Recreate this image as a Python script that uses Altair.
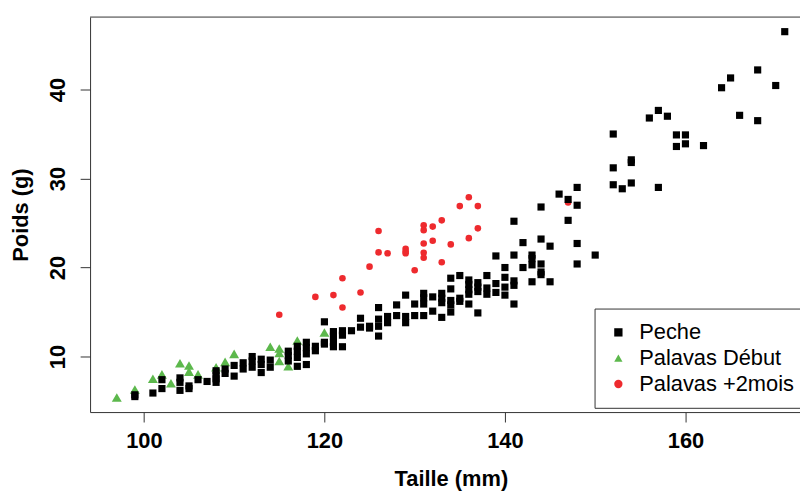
import altair as alt
import pandas as pd

# Peche (black squares)
peche_taille = [99, 99, 101, 102, 102, 104, 104, 104, 105, 105, 106, 107,
                108, 108, 108, 108, 109, 109, 110, 110, 111, 111, 112, 112, 112,
                113, 113, 113, 114, 114, 116, 116, 116, 117, 117, 117, 117,
                118, 118, 118, 118, 119, 119, 120, 120, 120, 121, 121, 121, 121,
                122, 122, 122, 123, 124, 124, 125, 125, 126, 126, 126, 126,
                127, 127, 128, 128, 129, 129, 129, 130, 130, 131, 131, 131, 131,
                132, 132, 133, 133, 133, 133, 134, 134, 134, 134, 134,
                135, 135, 135, 136, 136, 136, 136, 136, 137, 137, 137, 137,
                138, 138, 138, 139, 139, 139, 140, 140, 140, 140,
                141, 141, 141, 141, 141, 142, 142, 143, 143, 143, 143,
                144, 144, 144, 144, 144, 145, 145, 146, 147, 147,
                148, 148, 148, 148, 150, 152, 152, 152, 153, 154, 154, 154,
                156, 157, 157, 158, 159, 159, 160, 160, 162, 164, 165, 166,
                168, 168, 170, 171]
peche_poids = [5.7, 5.5, 5.9, 7.4, 6.4, 7.6, 7.1, 6.2, 6.7, 6.4, 7.4, 7.2,
               8.4, 7.9, 7.5, 7.1, 8.6, 8.1, 9.0, 7.8, 9.3, 8.6, 10.0, 9.5, 8.8,
               9.7, 9.1, 8.2, 9.6, 8.8, 10.6, 10.1, 9.5, 11.15, 10.6, 9.9, 8.9,
               11.6, 11.0, 10.3, 9.1, 11.15, 10.65, 13.9, 11.6, 11.4, 12.8, 12.3, 11.6, 11.1,
               12.9, 12.4, 11.1, 12.9, 14.3, 13.3, 13.4, 13.2, 15.5, 14.2, 13.4, 12.3,
               14.5, 13.8, 15.8, 14.6, 16.9, 14.5, 13.8, 15.9, 14.6, 17.1, 16.6, 15.9, 14.6,
               16.7, 15.1, 17.1, 16.55, 16.05, 14.4, 18.8, 17.6, 16.3, 15.8, 15.0,
               19.1, 16.55, 16.2, 18.6, 18.1, 17.5, 17.0, 15.9, 18.3, 17.8, 17.3, 14.9,
               19.1, 17.7, 17.0, 21.3, 18.2, 17.2, 20.0, 18.9, 17.8, 16.9,
               25.2, 21.4, 18.5, 18.0, 15.9, 22.8, 20.0, 21.4, 21.0, 20.3, 18.4,
               26.8, 23.2, 20.4, 19.5, 19.2, 22.4, 18.4, 28.25, 27.65, 25.3,
               29.0, 27.0, 22.7, 20.4, 21.4, 35.0, 31.2, 29.3, 28.85, 32.1, 31.8, 29.5,
               36.8, 37.65, 29.0, 37.0, 34.9, 33.6, 34.9, 33.9, 33.7, 40.2, 41.3, 37.1,
               42.2, 36.5, 40.45, 46.5]

# Palavas Début (green triangles)
debut_taille = [97, 99, 101, 102, 103, 104, 105, 105, 106, 108, 109, 110,
                114, 115, 115, 115, 116, 117, 120]
debut_poids = [5.4, 6.3, 7.5, 8.0, 7.0, 9.25, 9.0, 8.3, 8.0, 8.8, 9.4, 10.3,
               11.1, 10.9, 10.4, 9.5, 8.9, 11.8, 12.7]

# Palavas +2mois (red circles)
mois_taille = [115, 119, 121, 122, 122, 124, 125, 126, 126, 127, 129, 129, 129,
               130, 131, 131, 131, 131, 131, 132, 132, 133, 133, 134, 135, 136, 136,
               137, 137, 147]
mois_poids = [14.7, 16.7, 16.9, 18.8, 15.5, 17.2, 20.1, 24.1, 21.7, 21.6, 22.1, 21.8, 21.6,
              19.7, 24.75, 24.2, 22.7, 21.65, 21.1, 24.6, 23.0, 25.3, 20.6, 22.6, 26.9, 27.9, 23.3,
              26.9, 24.4, 27.3]

groupes = ["Peche", "Palavas Début", "Palavas +2mois"]
couleurs = ["#000000", "#5cb84c", "#ee2a2e"]
formes = ["square", "triangle-up", "circle"]
tailles = [52, 100, 44]

rows = []
for t, p in zip(mois_taille, mois_poids):
    rows.append({"Taille": t, "Poids": p, "Groupe": groupes[2]})
for t, p in zip(debut_taille, debut_poids):
    rows.append({"Taille": t, "Poids": p, "Groupe": groupes[1]})
for t, p in zip(peche_taille, peche_poids):
    rows.append({"Taille": t, "Poids": p, "Groupe": groupes[0]})
df = pd.DataFrame(rows)
df["sz"] = df["Groupe"].map(dict(zip(groupes, tailles)))

FONT = "Liberation Sans"
W = 715.3
H = 398
FRAME = "#333333"

points = alt.Chart(df).mark_point(filled=True, opacity=1).encode(
    x=alt.X("Taille:Q",
            scale=alt.Scale(domain=[94.04, 172.69], nice=False, zero=False),
            axis=alt.Axis(title="Taille (mm)", values=[100, 120, 140, 160],
                          grid=False, tickSize=10, labelPadding=26,
                          labelBaseline="alphabetic", labelFontSize=22,
                          labelFontWeight="bold", labelFont=FONT,
                          titleFont=FONT, titleFontSize=22, titleFontWeight="bold",
                          titleBaseline="alphabetic", titleX=363.5, titleY=73.7,
                          titleAlign="center",
                          domain=True, domainColor=FRAME, tickColor=FRAME,
                          labelColor="#000", titleColor="#000")),
    y=alt.Y("Poids:Q",
            scale=alt.Scale(domain=[3.76, 48.14], nice=False, zero=False),
            axis=alt.Axis(title="Poids (g)", values=[10, 20, 30, 40],
                          grid=False, tickSize=10, labelPadding=15.7,
                          labelAngle=270, labelAlign="center",
                          labelBaseline="alphabetic", labelFontSize=22,
                          labelFontWeight="bold", labelFont=FONT,
                          titleFont=FONT, titleFontSize=22, titleFontWeight="bold",
                          titleAngle=270, titleAlign="center",
                          titleBaseline="alphabetic", titleX=-63.4, titleY=199,
                          domain=True, domainColor=FRAME, tickColor=FRAME,
                          labelColor="#000", titleColor="#000")),
    color=alt.Color("Groupe:N",
                    scale=alt.Scale(domain=groupes, range=couleurs),
                    legend=alt.Legend(title=None, orient="none",
                                      legendX=508.3, legendY=293.7,
                                      labelFont=FONT, labelFontSize=22,
                                      labelColor="#000", symbolSize=70,
                                      symbolOffset=0, labelOffset=10, padding=13,
                                      rowPadding=4, strokeColor=FRAME,
                                      fillColor="#ffffff", cornerRadius=0,
                                      symbolStrokeWidth=0)),
    shape=alt.Shape("Groupe:N", scale=alt.Scale(domain=groupes, range=formes)),
    size=alt.Size("sz:Q", scale=None, legend=None),
)

top_line = alt.Chart(pd.DataFrame({"bord": ["haut"]})).mark_rule(
    color=FRAME, strokeWidth=1
).encode(y=alt.value(0), x=alt.value(0), x2=alt.value(W))

chart = alt.layer(top_line, points).properties(
    width=W, height=H,
    autosize=alt.AutoSizeParams(type="none"),
    padding={"left": 82.7, "top": 7.3, "right": 0, "bottom": 79.5},
    background="white",
).configure_view(stroke=None)

chart.save("out.html", embed_options={"renderer": "svg", "actions": False})
